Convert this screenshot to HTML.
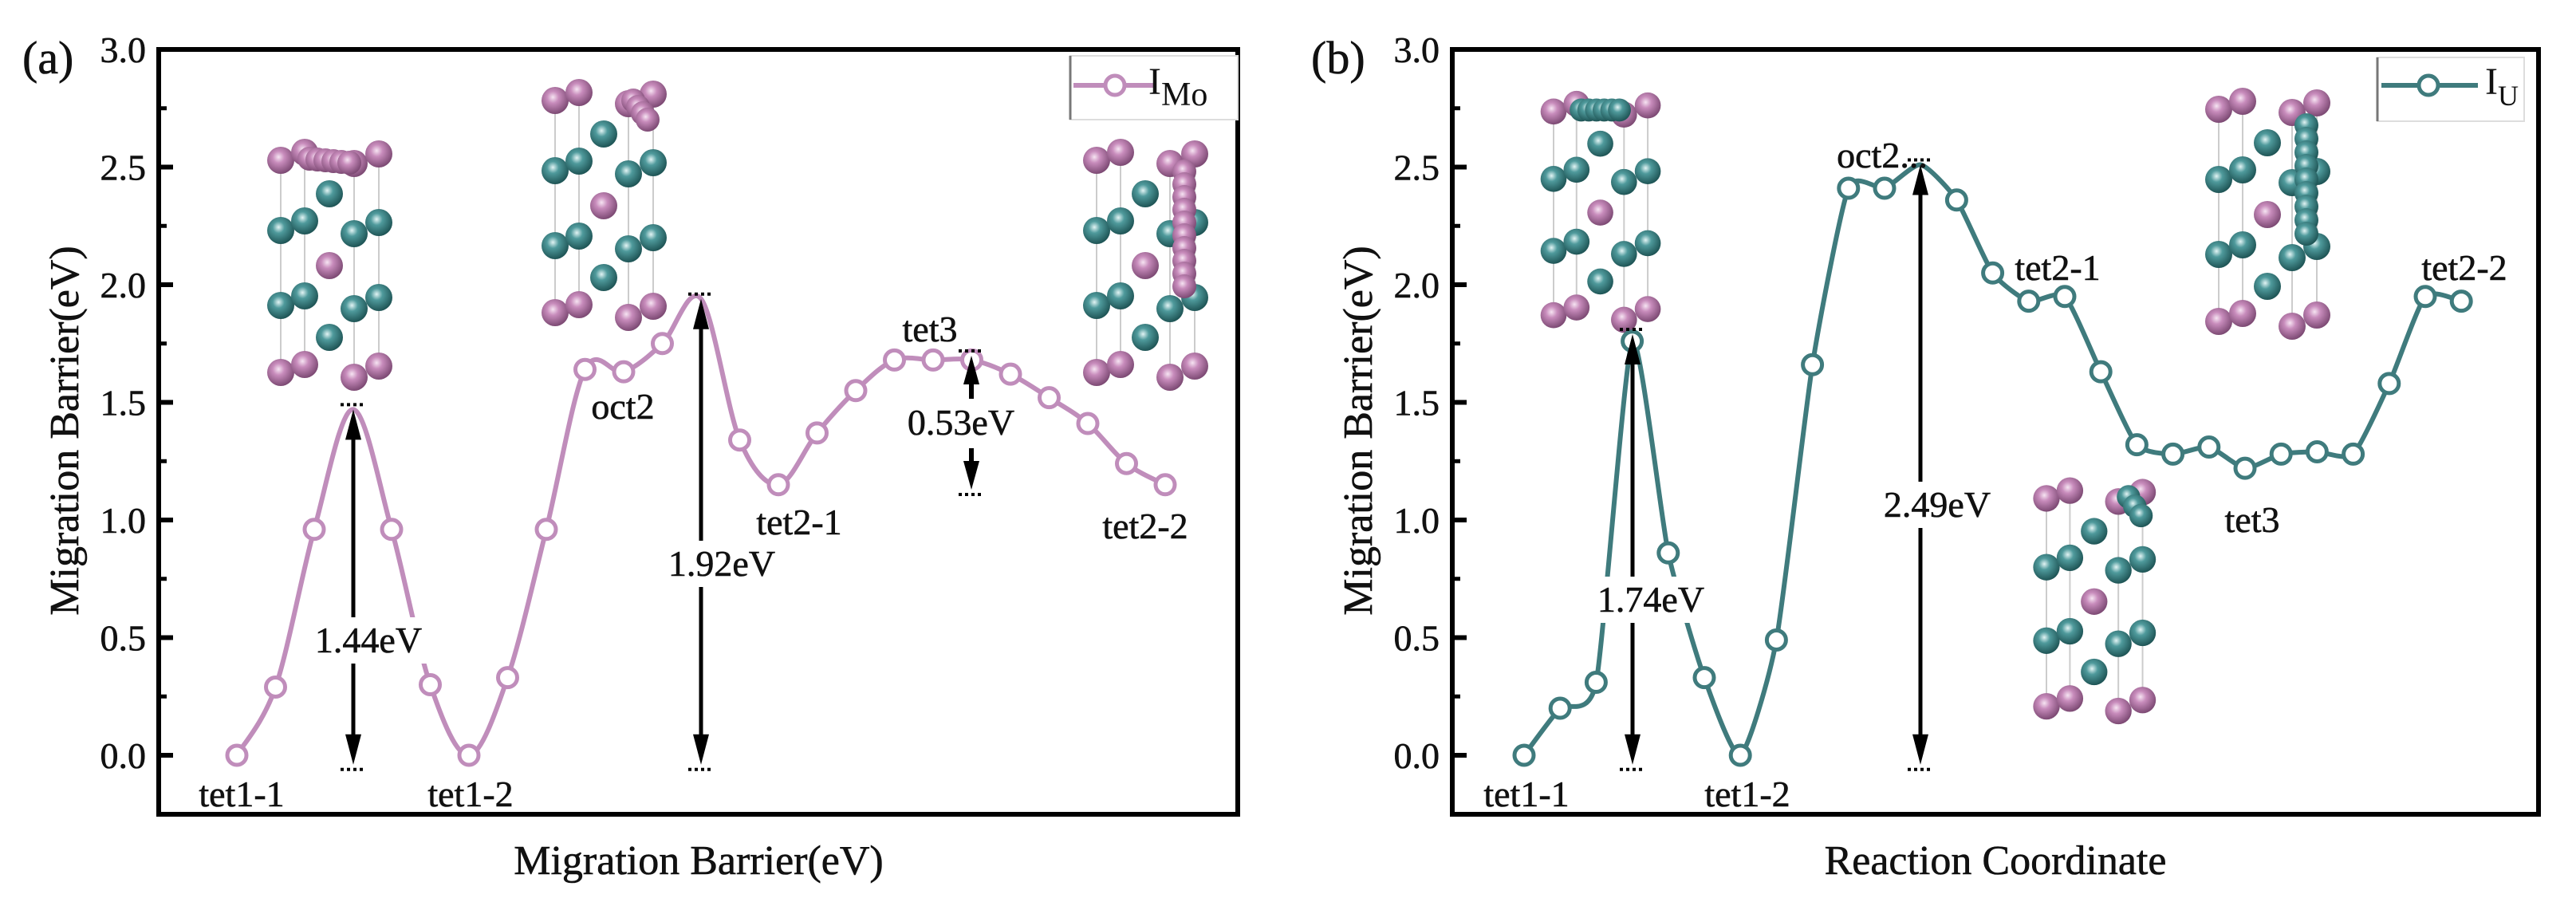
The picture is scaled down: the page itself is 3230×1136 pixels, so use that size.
<!DOCTYPE html>
<html><head><meta charset="utf-8"><style>
html,body{margin:0;padding:0;background:#fff;width:3230px;height:1136px;overflow:hidden}
svg text{font-family:"Liberation Serif",serif;fill:#111}
</style></head><body>
<svg id="fig" width="3230" height="1136" viewBox="0 0 3230 1136" xmlns="http://www.w3.org/2000/svg">
<defs>
<radialGradient id="gp" cx="0.42" cy="0.38" r="0.62"><stop offset="0" stop-color="#f6e4f2"/><stop offset="0.35" stop-color="#c88cbc"/><stop offset="1" stop-color="#7d4a74"/></radialGradient>
<radialGradient id="gt" cx="0.42" cy="0.38" r="0.62"><stop offset="0" stop-color="#e2f4f4"/><stop offset="0.35" stop-color="#4f9a9c"/><stop offset="1" stop-color="#1f5556"/></radialGradient>
</defs>
</svg>
<script>
// ---- data ----
const yTicks = [0.0, 0.5, 1.0, 1.5, 2.0, 2.5, 3.0];
const yTickLabels = ["0.0","0.5","1.0","1.5","2.0","2.5","3.0"];
const moValues = [0.00,0.29,0.96,1.47,0.96,0.30,0.00,0.33,0.96,1.64,1.63,1.75,1.94,1.34,1.15,1.37,1.55,1.68,1.68,1.68,1.62,1.52,1.41,1.24,1.15];
const moHiddenMarkers = [3,12];
const uValues = [0.00,0.20,0.31,1.76,0.86,0.33,0.00,0.49,1.66,2.41,2.41,2.51,2.36,2.05,1.93,1.95,1.63,1.32,1.28,1.31,1.22,1.28,1.29,1.28,1.58,1.95,1.93];
const uHiddenMarkers = [11];
const moBarriers = ["1.44eV","1.92eV","0.53eV"];
const uBarriers = ["1.74eV","2.49eV"];

const NS="http://www.w3.org/2000/svg";
const svg=document.getElementById('fig');
const SERIF='"Liberation Serif", "DejaVu Serif", serif';
const SANS='"Liberation Sans", "DejaVu Sans", sans-serif';
function mk(tag,attrs,parent){const e=document.createElementNS(NS,tag);for(const k in attrs)e.setAttribute(k,attrs[k]);(parent||svg).appendChild(e);return e;}
function txt(s,x,y,size,anchor,parent,fam){const t=mk('text',{x:x,y:y,'font-size':size,'text-anchor':anchor||'middle','font-family':fam||SERIF,fill:'#111',stroke:'#111','stroke-width':0.6},parent);t.textContent=s;return t;}

const Y0=947, YS=295;
function yScale(v){return Y0-YS*v;}

function smoothPath(pts,k){let d='M'+pts[0][0]+','+pts[0][1];
 for(let i=0;i<pts.length-1;i++){const p0=pts[Math.max(0,i-1)],p1=pts[i],p2=pts[i+1],p3=pts[Math.min(pts.length-1,i+2)];
  const c1x=p1[0]+(p2[0]-p0[0])*k,c1y=p1[1]+(p2[1]-p0[1])*k,c2x=p2[0]-(p3[0]-p1[0])*k,c2y=p2[1]-(p3[1]-p1[1])*k;
  d+=' C'+c1x.toFixed(1)+','+c1y.toFixed(1)+' '+c2x.toFixed(1)+','+c2y.toFixed(1)+' '+p2[0].toFixed(1)+','+p2[1].toFixed(1);}
 return d;}

function frame(g,L,R){
 mk('rect',{x:L,y:62,width:R-L,height:959,fill:'none',stroke:'#000','stroke-width':6},g);
 yTicks.forEach((v,i)=>{const y=yScale(v);
  const t=mk('line',{x1:L,y1:y,x2:L+18,y2:y,stroke:'#000','stroke-width':6},g);
  
  
  const lb=txt(yTickLabels[i],L-16,y+16,46,'end',g);
  
  
  if(i<yTicks.length-1){const m=mk('line',{x1:L,y1:yScale(v+0.25),x2:L+10,y2:yScale(v+0.25),stroke:'#000','stroke-width':5},g);
   
   }
 });
}

function series(g,vals,x0,step,color,hidden,k){
 const pts=vals.map((v,i)=>[x0+step*i,yScale(v)]);
 const p=mk('path',{d:smoothPath(pts,k),fill:'none',stroke:color,'stroke-width':6},g);
 
 
 pts.forEach((q,i)=>{if(hidden.indexOf(i)>=0)return;
  const c=mk('circle',{cx:q[0],cy:q[1],r:12,fill:'#fff',stroke:color,'stroke-width':5},g);
  
  });
 return pts;
}

function arrow(g,x,vTop,vBot,label,labelY,labelX){
 const yt=yScale(vTop),yb=yScale(vBot);
 mk('line',{x1:x-16,y1:yt-6,x2:x+16,y2:yt-6,stroke:'#000','stroke-width':4,'stroke-dasharray':'4,4'},g);
 mk('line',{x1:x-16,y1:yb+6,x2:x+16,y2:yb+6,stroke:'#000','stroke-width':4,'stroke-dasharray':'4,4'},g);
 mk('line',{x1:x,y1:yt+30,x2:x,y2:yb-30,stroke:'#000','stroke-width':5},g);
 mk('polygon',{points:`${x},${yt} ${x-10},${yt+38} ${x+10},${yt+38}`,fill:'#000'},g);
 mk('polygon',{points:`${x},${yb} ${x-10},${yb-38} ${x+10},${yb-38}`,fill:'#000'},g);
 const lx=labelX||x;
 mk('rect',{x:lx-78,y:labelY-44,width:156,height:58,fill:'#fff'},g);
 const t=txt(label,lx,labelY,46,'middle',g);
 
 
}

function sphere(g,x,y,r,pink){mk('circle',{cx:x,cy:y,r:r,fill:pink?'url(#gp)':'url(#gt)'},g);}
function crystal(g,L,T,sc,trail){
 const s=sc;
 [0,30,92,123].forEach(dx=>mk('line',{x1:L+dx*s,y1:T,x2:L+dx*s,y2:T+272*s,stroke:'#ccc','stroke-width':2},g));
 const P=[[0,4,1],[30,-6,1],[92,8,1],[123,-4,1],
  [61,46,0],[0,92,0],[30,80,0],[92,96,0],[123,82,0],[61,136,1],
  [0,186,0],[30,174,0],[92,190,0],[123,176,0],[61,226,0],
  [0,270,1],[30,260,1],[92,276,1],[123,262,1]];
 P.forEach(p=>sphere(g,L+p[0]*s,T+p[1]*s,17*s,p[2]));
 if(trail){for(let i=0;i<trail.n;i++)sphere(g,L+(trail.x+trail.dx*i)*s,T+(trail.y+trail.dy*i)*s,15*s,trail.pink);}
}

// ---------- Panel (a) ----------
const ga=mk('g',{});


frame(ga,199,1552);
const la=txt('(a)',28,92,58,'start',ga);


const yta=txt('Migration Barrier(eV)',0,0,52,'middle',ga,SANS);
yta.setAttribute('transform','translate(98,540) rotate(-90)');


const xta=txt('Migration Barrier(eV)',876,1096,52,'middle',ga);


crystal(ga,352,197,1,{n:6,x:36,y:2,dx:10,dy:1,pink:1});
crystal(ga,696,122,1,{n:4,x:98,y:4,dx:6,dy:8,pink:1});
crystal(ga,1375,197,1,{n:10,x:110,y:18,dx:0,dy:16,pink:1});
const MO='#c08dbb';
series(ga,moValues,297,48.5,MO,moHiddenMarkers,0.16);
arrow(ga,443,moValues[3],-0.04,moBarriers[0],818,462);
arrow(ga,879,moValues[12],-0.04,moBarriers[1],722,905);
(function(){const x=1218,yt=440,yb=620;
 mk('line',{x1:x-16,y1:yt,x2:x+16,y2:yt,stroke:'#000','stroke-width':4,'stroke-dasharray':'4,4'},ga);
 mk('line',{x1:x-16,y1:yb,x2:x+16,y2:yb,stroke:'#000','stroke-width':4,'stroke-dasharray':'4,4'},ga);
 mk('polygon',{points:`${x},${yt+6} ${x-10},${yt+42} ${x+10},${yt+42}`,fill:'#000'},ga);
 mk('line',{x1:x,y1:yt+30,x2:x,y2:yt+60,stroke:'#000','stroke-width':6},ga);
 mk('polygon',{points:`${x},${yb-6} ${x-10},${yb-42} ${x+10},${yb-42}`,fill:'#000'},ga);
 mk('line',{x1:x,y1:yb-30,x2:x,y2:yb-58,stroke:'#000','stroke-width':6},ga);
 const t=txt(moBarriers[2],1205,545,46,'middle',ga);
 
 })();
[['tet1-1',303,1011],['tet1-2',590,1011],['oct2',781,525],['tet3',1166,428],['tet2-1',1002,670],['tet2-2',1436,675]].forEach(a=>{
 const t=txt(a[0],a[1],a[2],46,'middle',ga);
 
 });
const lga=mk('g',{},ga);


mk('rect',{x:1342,y:70,width:210,height:80,fill:'#fff',stroke:'#ddd','stroke-width':2},lga);
mk('line',{x1:1342,y1:70,x2:1342,y2:150,stroke:'#777','stroke-width':3},lga);
mk('line',{x1:1346,y1:107,x2:1447,y2:107,stroke:MO,'stroke-width':6},lga);
mk('circle',{cx:1398,cy:107,r:12,fill:'#fff',stroke:MO,'stroke-width':5},lga);
const lta=mk('text',{x:1440,y:118,'font-size':48,'text-anchor':'start','font-family':SERIF,fill:'#111'},lga);
lta.innerHTML='I<tspan font-size="42" dy="14">Mo</tspan>';

// ---------- Panel (b) ----------
const gb=mk('g',{});


frame(gb,1821,3183);
const lb=txt('(b)',1644,92,58,'start',gb);


const ytb=txt('Migration Barrier(eV)',0,0,52,'middle',gb,SANS);
ytb.setAttribute('transform','translate(1720,540) rotate(-90)');


const xtb=txt('Reaction Coordinate',2502,1096,52,'middle',gb);


crystal(gb,1948,136,0.96,{n:6,x:36,y:2,dx:10,dy:0,pink:0});
crystal(gb,2782,133,1,{n:9,x:110,y:24,dx:0,dy:17,pink:0});
crystal(gb,2566,621,0.98,{n:3,x:105,y:2,dx:8,dy:12,pink:0});
const UC='#3f7b7d';
series(gb,uValues,1911,45.2,UC,uHiddenMarkers,0.1);
arrow(gb,2047,1.79,-0.04,uBarriers[0],767,2070);
arrow(gb,2408,uValues[11],-0.04,uBarriers[1],648,2429);
[['tet1-1',1914,1011],['tet1-2',2191,1011],['oct2...',2360,210],['tet2-1',2580,351],['tet2-2',3090,351],['tet3',2824,667]].forEach(a=>{
 const t=txt(a[0],a[1],a[2],46,'middle',gb);
 
 });
const lgb=mk('g',{},gb);


mk('rect',{x:2981,y:72,width:184,height:80,fill:'#fff',stroke:'#ddd','stroke-width':2},lgb);
mk('line',{x1:2981,y1:72,x2:2981,y2:152,stroke:'#777','stroke-width':3},lgb);
mk('line',{x1:2986,y1:107,x2:3107,y2:107,stroke:UC,'stroke-width':6},lgb);
mk('circle',{cx:3045,cy:107,r:12,fill:'#fff',stroke:UC,'stroke-width':5},lgb);
const ltb=mk('text',{x:3116,y:118,'font-size':48,'text-anchor':'start','font-family':SERIF,fill:'#111'},lgb);
ltb.innerHTML='I<tspan font-size="36" dy="14">U</tspan>';
</script>
</body></html>
